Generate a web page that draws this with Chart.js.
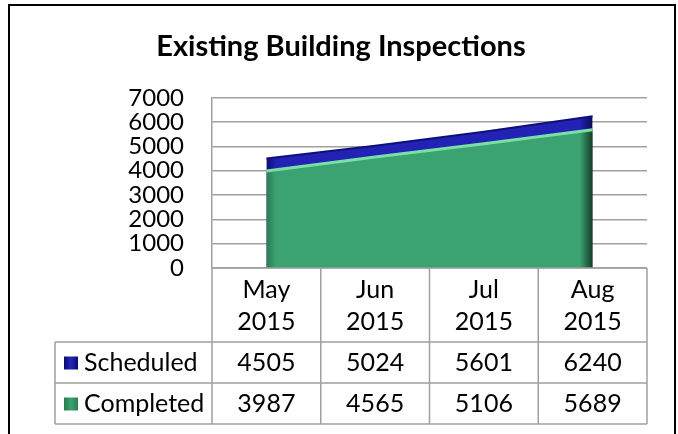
<!DOCTYPE html>
<html>
<head>
<meta charset="utf-8">
<title>Existing Building Inspections</title>
<script src="https://cdn.jsdelivr.net/npm/chart.js@4.4.0/dist/chart.umd.min.js"></script>
<style>
    body { margin: 0; background: #fff; overflow: hidden; }
    #wrap { position: relative; width: 678px; height: 434px; }
    #frame { position: absolute; left: 8px; top: 4px; width: 664px; height: 460px; border: 2px solid #000; pointer-events: none; }
</style>
</head>
<body>
<div id="wrap">
    <canvas id="chart" width="678" height="434"></canvas>
    <div id="frame"></div>
</div>
<script>
const months = ["May", "Jun", "Jul", "Aug"];
const years = ["2015", "2015", "2015", "2015"];
const seriesNames = ["Scheduled", "Completed"];
const scheduled = [4505, 5024, 5601, 6240];
const completed = [3987, 4565, 5106, 5689];

const FONT = "Lato, 'Open Sans', sans-serif";
const TEXT_SIZE = 25;
const GRID = "#a0a0a0";

// horizontal gradient so the ends of the area look a bit bevelled
function sideShade(colors, fallback) {
    return function (ctx) {
        const chart = ctx.chart;
        if (!chart.chartArea) return fallback;
        const x = chart.scales.x;
        const x0 = x.getPixelForValue(0);
        const x1 = x.getPixelForValue(months.length - 1);
        const g = chart.ctx.createLinearGradient(x0, 0, x1, 0);
        g.addColorStop(0, colors[0]);
        g.addColorStop(0.03, colors[1]);
        g.addColorStop(0.96, colors[1]);
        g.addColorStop(1, colors[2]);
        return g;
    };
}

// table under the plot: header lines, legend keys and values
const dataTable = {
    id: "dataTable",
    afterDraw(chart) {
        const ctx = chart.ctx;
        const x = chart.scales.x;
        const area = chart.chartArea;
        const half = (x.getPixelForValue(1) - x.getPixelForValue(0)) / 2;
        const left = x.getPixelForValue(0) - half;
        const right = x.getPixelForValue(months.length - 1) + half;
        const headBottom = area.bottom + 74;
        const rowH = 41;
        const bottom = headBottom + rowH * 2;
        const tableLeft = 55;

        ctx.save();
        ctx.strokeStyle = GRID;
        ctx.lineWidth = 1.5;
        ctx.beginPath();
        for (let i = 0; i <= months.length; i++) {
            const px = left + i * half * 2;
            ctx.moveTo(px, area.bottom);
            ctx.lineTo(px, bottom);
        }
        ctx.moveTo(tableLeft, headBottom);
        ctx.lineTo(tableLeft, bottom);
        for (let r = 0; r <= 2; r++) {
            ctx.moveTo(tableLeft, headBottom + r * rowH);
            ctx.lineTo(right, headBottom + r * rowH);
        }
        ctx.moveTo(left, area.bottom);
        ctx.lineTo(right, area.bottom);
        ctx.stroke();

        const rows = [scheduled, completed];
        const keys = [["#0a0a6e", "#2626b8"], ["#2a7a52", "#3ba372"]];
        ctx.font = TEXT_SIZE + "px " + FONT;
        ctx.textBaseline = "middle";
        rows.forEach((vals, r) => {
            const cy = headBottom + r * rowH + rowH / 2;
            const g = ctx.createLinearGradient(64, 0, 78, 0);
            g.addColorStop(0, keys[r][0]);
            g.addColorStop(0.5, keys[r][1]);
            g.addColorStop(1, keys[r][0]);
            ctx.fillStyle = g;
            ctx.fillRect(64, cy - 6, 14, 13);
            ctx.fillStyle = "#000";
            ctx.textAlign = "left";
            ctx.fillText(seriesNames[r], 84, cy);
            ctx.textAlign = "center";
            vals.forEach((v, i) => {
                ctx.fillText(String(v), x.getPixelForValue(i), cy);
            });
        });
        ctx.restore();
    }
};

new Chart(document.getElementById("chart"), {
    type: "line",
    data: {
        labels: months.map((m, i) => [m, years[i]]),
        datasets: [
            {
                label: seriesNames[0],
                data: scheduled,
                fill: "origin",
                order: 2,
                backgroundColor: sideShade(["#0c0c70", "#2222b4", "#0a0a5a"], "#2222b4"),
                borderColor: "#10107a",
                borderWidth: 2,
                pointRadius: 0,
                tension: 0,
            },
            {
                label: seriesNames[1],
                data: completed,
                fill: "origin",
                order: 1,
                backgroundColor: sideShade(["#2c7a52", "#3ba372", "#163d29"], "#3ba372"),
                borderColor: "#79dfa5",
                borderWidth: 3,
                pointRadius: 0,
                tension: 0,
            },
        ],
    },
    options: {
        responsive: false,
        animation: false,
        layout: { padding: { left: 35, right: 31, top: 0, bottom: 0 } },
        plugins: {
            legend: { display: false },
            tooltip: { enabled: false },
            title: {
                display: true,
                text: "Existing Building Inspections",
                color: "#000",
                font: { family: FONT, size: 29, weight: "bold" },
                padding: { top: 29, bottom: 34 },
            },
        },
        scales: {
            x: {
                offset: true,
                grid: { display: false },
                border: { display: false },
                ticks: {
                    color: "#000",
                    font: { family: FONT, size: TEXT_SIZE, lineHeight: 1.28 },
                    padding: -2,
                    maxRotation: 0,
                    autoSkip: false,
                },
                afterFit(s) { s.height = 166; },
            },
            y: {
                min: 0,
                max: 7000,
                grid: { color: GRID, lineWidth: 1.5, drawTicks: false },
                border: { color: GRID, width: 1.5 },
                ticks: {
                    stepSize: 1000,
                    autoSkip: false,
                    color: "#000",
                    font: { family: FONT, size: 24, lineHeight: 1 },
                    padding: 28,
                    callback: (v) => String(v),
                },
                afterFit(s) { s.width = 177; },
            },
        },
    },
    plugins: [dataTable],
});
</script>
</body>
</html>
